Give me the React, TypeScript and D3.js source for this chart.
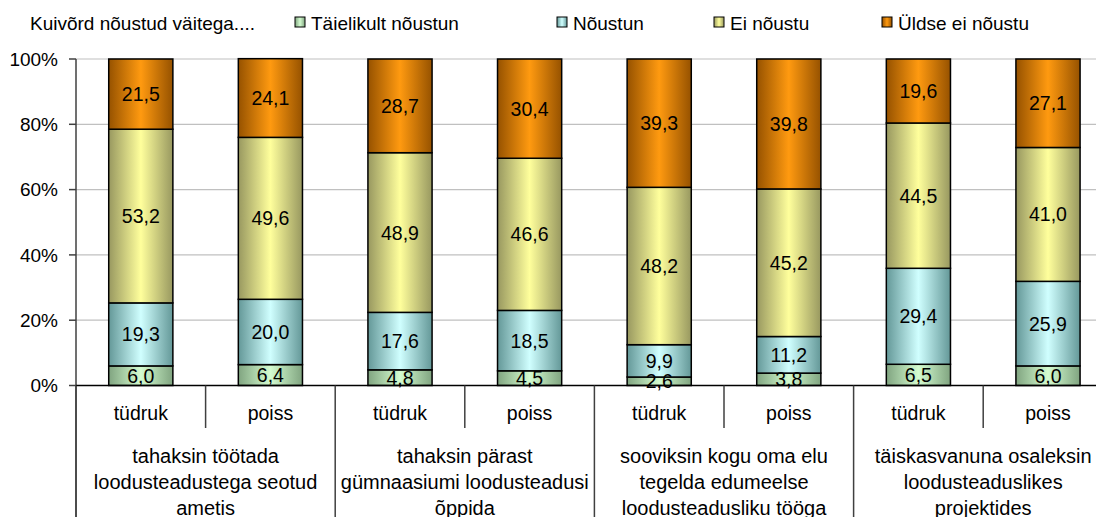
import React from "react";
import * as d3 from "d3";

const seriesNames = ["Täielikult nõustun", "Nõustun", "Ei nõustu", "Üldse ei nõustu"];
const subLabels = ["tüdruk", "poiss", "tüdruk", "poiss", "tüdruk", "poiss", "tüdruk", "poiss"];
const groupLabels = [
  ["tahaksin töötada", "loodusteadustega seotud", "ametis"],
  ["tahaksin pärast", "gümnaasiumi loodusteadusi", "õppida"],
  ["sooviksin kogu oma elu", "tegelda edumeelse", "loodusteadusliku tööga"],
  ["täiskasvanuna osaleksin", "loodusteaduslikes", "projektides"],
];
const taielikult = [6.0, 6.4, 4.8, 4.5, 2.6, 3.8, 6.5, 6.0];
const noustun = [19.3, 20.0, 17.6, 18.5, 9.9, 11.2, 29.4, 25.9];
const eiNoustu = [53.2, 49.6, 48.9, 46.6, 48.2, 45.2, 44.5, 41.0];
const uldseEi = [21.5, 24.1, 28.7, 30.4, 39.3, 39.8, 19.6, 27.1];
const yTicks = [0, 20, 40, 60, 80, 100];
const legendTitle = "Kuivõrd nõustud väitega....";

const colors = [
  { edge: "#80a480", mid: "#d4fcd0" },
  { edge: "#649898", mid: "#d0ffff" },
  { edge: "#989860", mid: "#ffff9c" },
  { edge: "#965200", mid: "#ff9a10" },
];

const FONT = "'Liberation Sans', Arial, sans-serif";

export default function App() {
  const series = [taielikult, noustun, eiNoustu, uldseEi];
  const left = 76;
  const step = 129.6;
  const x = d3
    .scaleBand<number>()
    .domain(d3.range(8))
    .range([left, left + step * 8])
    .paddingInner(0.505)
    .paddingOuter(0.2525);
  const y = d3.scaleLinear().domain([0, 100]).range([385.5, 59]);
  const bw = x.bandwidth();

  const legendItems = [
    { x: 295, label: seriesNames[0] },
    { x: 557, label: seriesNames[1] },
    { x: 714, label: seriesNames[2] },
    { x: 882, label: seriesNames[3] },
  ];

  const fmt = (v: number) => v.toFixed(1).replace(".", ",");

  return (
    <svg
      width={1096}
      height={517}
      style={{ position: "absolute", left: 0, top: 0, background: "#fff" }}
      fontFamily={FONT}
    >
      <defs>
        {colors.map((c, i) => (
          <linearGradient key={i} id={`g${i}`} x1="0" x2="1" y1="0" y2="0">
            <stop offset="0" stopColor={c.edge} />
            <stop offset="0.5" stopColor={c.mid} />
            <stop offset="1" stopColor={c.edge} />
          </linearGradient>
        ))}
      </defs>

      {/* legend */}
      <text x={30} y={30} fontSize={19} fill="#000">
        {legendTitle}
      </text>
      {legendItems.map((it, i) => (
        <g key={i}>
          <rect x={it.x} y={17} width={10} height={10} fill={`url(#g${i})`} stroke="#000" strokeWidth={1} />
          <text x={it.x + 16} y={30} fontSize={19} fill="#000">
            {it.label}
          </text>
        </g>
      ))}

      {/* gridlines */}
      {yTicks.filter((t) => t > 0).map((t) => (
        <line key={t} x1={left} x2={1096} y1={y(t)} y2={y(t)} stroke="#c0c0c0" strokeWidth={1.2} />
      ))}

      {/* y axis */}
      <line x1={left} x2={left} y1={y(100)} y2={517} stroke="#404040" strokeWidth={1.5} />
      {yTicks.map((t) => (
        <g key={t}>
          <line x1={69} x2={left} y1={y(t)} y2={y(t)} stroke="#404040" strokeWidth={1.5} />
          <text x={58} y={y(t)} dy="0.36em" textAnchor="end" fontSize={19} fill="#000">
            {t}%
          </text>
        </g>
      ))}

      {/* bars */}
      {d3.range(8).map((i) => {
        let acc = 0;
        return (
          <g key={i}>
            {series.map((s, k) => {
              const v = s[i];
              const y0 = y(acc);
              const y1 = y(acc + v);
              acc += v;
              return (
                <rect
                  key={k}
                  x={x(i)}
                  y={y1}
                  width={bw}
                  height={y0 - y1}
                  fill={`url(#g${k})`}
                  stroke="#000"
                  strokeWidth={1.5}
                />
              );
            })}
          </g>
        );
      })}
      {/* data labels */}
      {d3.range(8).map((i) => {
        let acc = 0;
        return (
          <g key={i}>
            {series.map((s, k) => {
              const v = s[i];
              const mid = y(acc + v / 2);
              acc += v;
              return (
                <text
                  key={k}
                  x={(x(i) as number) + bw / 2}
                  y={mid}
                  dy="0.36em"
                  textAnchor="middle"
                  fontSize={19.5}
                  fill="#000"
                >
                  {fmt(v)}
                </text>
              );
            })}
          </g>
        );
      })}

      {/* category axis */}
      <line x1={left} x2={1096} y1={y(0)} y2={y(0)} stroke="#000" strokeWidth={1.5} />
      {d3.range(9).map((j) => (
        <line
          key={j}
          x1={left + j * step}
          x2={left + j * step}
          y1={y(0)}
          y2={j % 2 === 0 ? 517 : 428}
          stroke="#404040"
          strokeWidth={1.5}
        />
      ))}
      {subLabels.map((l, i) => (
        <text key={i} x={(x(i) as number) + bw / 2} y={420} textAnchor="middle" fontSize={19.5} fill="#000">
          {l}
        </text>
      ))}
      {groupLabels.map((lines, g) => (
        <text key={g} textAnchor="middle" fontSize={20} fill="#000">
          {lines.map((ln, li) => (
            <tspan key={li} x={left + step * (2 * g + 1)} y={463 + li * 26}>
              {ln}
            </tspan>
          ))}
        </text>
      ))}
    </svg>
  );
}
